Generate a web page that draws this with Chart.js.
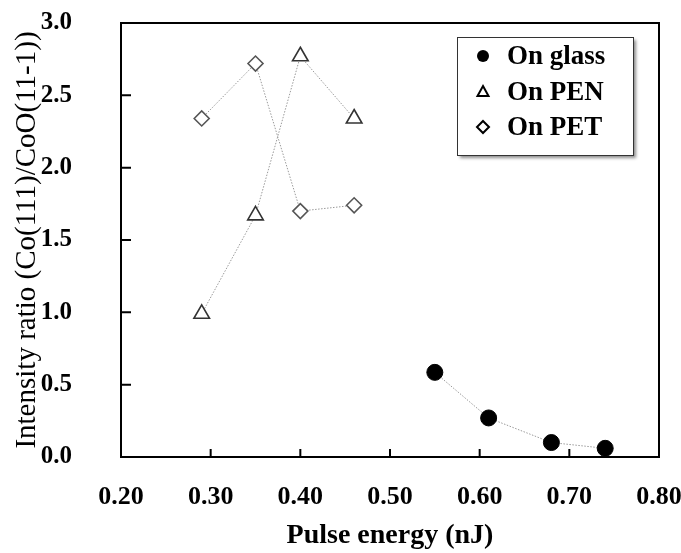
<!DOCTYPE html>
<html>
<head>
<meta charset="utf-8">
<script src="https://cdn.jsdelivr.net/npm/chart.js@4/dist/chart.umd.min.js"></script>
<style>
  body { margin: 0; background: #fff; }
  #wrap { width: 681px; height: 553px; }
</style>
</head>
<body>
<div id="wrap"><canvas id="canvas" width="681" height="553"></canvas></div>
<script>
// pulse energy (nJ) and intensity ratio Co(111)/CoO(11-1)
var glassEnergy = [0.55, 0.61, 0.68, 0.74];
var glassRatio  = [0.585, 0.27, 0.10, 0.06];
var polyEnergy  = [0.29, 0.35, 0.40, 0.46];
var penRatio    = [0.99, 1.67, 2.77, 2.34];
var petRatio    = [2.34, 2.72, 1.70, 1.74];
var seriesNames = ["On glass", "On PEN", "On PET"];

function toPoints(xs, ys) {
    var pts = [];
    for (var i = 0; i < xs.length; i++)
        pts.push({ x: xs[i], y: ys[i] });
    return pts;
}

var FONT = "'Liberation Serif', 'Times New Roman', serif";
var dotted = { borderColor: "#9a9a9a", borderWidth: 1, borderDash: [1.5, 1.5], tension: 0, showLine: true };

// frame + inward tick marks
var frameTicks = {
    id: "frameTicks",
    beforeDatasetsDraw: function(chart) {
        var ctx = chart.ctx, a = chart.chartArea;
        var xs = chart.scales.x, ys = chart.scales.y;
        ctx.save();
        ctx.strokeStyle = "#000";
        ctx.lineWidth = 2;
        ctx.strokeRect(a.left, a.top, a.right - a.left, a.bottom - a.top);
        ctx.beginPath();
        for (var i = 1; i < xs.ticks.length - 1; i++) {
            var px = xs.getPixelForTick(i);
            ctx.moveTo(px, a.bottom);
            ctx.lineTo(px, a.bottom - 8);
        }
        for (var j = 1; j < ys.ticks.length - 1; j++) {
            var py = ys.getPixelForTick(j);
            ctx.moveTo(a.left, py);
            ctx.lineTo(a.left + 10, py);
        }
        ctx.stroke();
        ctx.restore();
    }
};

// boxed legend with drop shadow in the top right corner
var boxLegend = {
    id: "boxLegend",
    afterDraw: function(chart) {
        var ctx = chart.ctx, a = chart.chartArea;
        var bx = a.right - 202, by = a.top + 14, bw = 176, bh = 118;
        ctx.save();
        ctx.shadowColor = "rgba(0,0,0,0.45)";
        ctx.shadowOffsetX = 3;
        ctx.shadowOffsetY = 3;
        ctx.shadowBlur = 3;
        ctx.fillStyle = "#fff";
        ctx.fillRect(bx, by, bw, bh);
        ctx.restore();

        ctx.save();
        ctx.strokeStyle = "#333";
        ctx.lineWidth = 1;
        ctx.strokeRect(bx + 0.5, by + 0.5, bw, bh);

        var rows = [19, 55, 90];
        chart.data.datasets.forEach(function(ds, k) {
            var cx = bx + 26, cy = by + rows[k];
            ctx.beginPath();
            if (ds.pointStyle === "circle") {
                ctx.arc(cx, cy, 6, 0, Math.PI * 2);
                ctx.fillStyle = "#000";
                ctx.fill();
            } else if (ds.pointStyle === "triangle") {
                ctx.moveTo(cx, cy - 6);
                ctx.lineTo(cx + 5.5, cy + 4);
                ctx.lineTo(cx - 5.5, cy + 4);
                ctx.closePath();
                ctx.lineWidth = 2;
                ctx.strokeStyle = "#000";
                ctx.stroke();
            } else {
                ctx.moveTo(cx, cy - 6);
                ctx.lineTo(cx + 6, cy);
                ctx.lineTo(cx, cy + 6);
                ctx.lineTo(cx - 6, cy);
                ctx.closePath();
                ctx.lineWidth = 2;
                ctx.strokeStyle = "#000";
                ctx.stroke();
            }
            ctx.fillStyle = "#000";
            ctx.font = "bold 27px " + FONT;
            ctx.textBaseline = "middle";
            ctx.textAlign = "left";
            ctx.fillText(ds.label, bx + 50, cy + 1);
        });
        ctx.restore();
    }
};

new Chart("canvas", {
    type: "scatter",
    data: {
        datasets: [
            Object.assign({
                label: seriesNames[0],
                data: toPoints(glassEnergy, glassRatio),
                pointStyle: "circle",
                pointRadius: 8,
                pointBackgroundColor: "#000",
                pointBorderColor: "#000",
                pointBorderWidth: 1
            }, dotted),
            Object.assign({
                label: seriesNames[1],
                data: toPoints(polyEnergy, penRatio),
                pointStyle: "triangle",
                pointRadius: 9,
                pointBackgroundColor: "#fff",
                pointBorderColor: "#333",
                pointBorderWidth: 1.6
            }, dotted),
            Object.assign({
                label: seriesNames[2],
                data: toPoints(polyEnergy, petRatio),
                pointStyle: "rectRot",
                pointRadius: 7.5,
                pointBackgroundColor: "#fff",
                pointBorderColor: "#555",
                pointBorderWidth: 1.6
            }, dotted)
        ]
    },
    options: {
        responsive: false,
        animation: false,
        layout: { padding: { left: 0, top: 23, right: 22, bottom: 0 } },
        plugins: {
            legend: { display: false },
            tooltip: { enabled: false }
        },
        scales: {
            x: {
                type: "linear",
                min: 0.2,
                max: 0.8,
                grid: { display: false, drawTicks: false },
                border: { display: false },
                ticks: {
                    stepSize: 0.1,
                    padding: 25,
                    color: "#000",
                    font: { family: FONT, size: 26, weight: "bold" },
                    callback: function(v) { return v.toFixed(2); }
                },
                title: {
                    display: true,
                    text: "Pulse energy (nJ)",
                    color: "#000",
                    font: { family: FONT, size: 28, weight: "bold" },
                    padding: { top: 0, bottom: 0 }
                },
                afterFit: function(scale) {
                    scale.height = 96;
                    scale.paddingRight = 0;
                }
            },
            y: {
                min: 0,
                max: 3,
                grid: { display: false, drawTicks: false },
                border: { display: false },
                ticks: {
                    stepSize: 0.5,
                    padding: 49,
                    color: "#000",
                    font: { family: FONT, size: 25, weight: "bold" },
                    callback: function(v) { return v.toFixed(1); }
                },
                title: {
                    display: true,
                    text: "Intensity ratio (Co(111)/CoO(11-1))",
                    color: "#000",
                    font: { family: FONT, size: 29, weight: "normal" },
                    padding: { top: 10, bottom: 0 }
                },
                afterFit: function(scale) {
                    scale.width = 121;
                    scale.paddingTop = 0;
                    scale.paddingBottom = 0;
                }
            }
        }
    },
    plugins: [frameTicks, boxLegend]
});
</script>
</body>
</html>
